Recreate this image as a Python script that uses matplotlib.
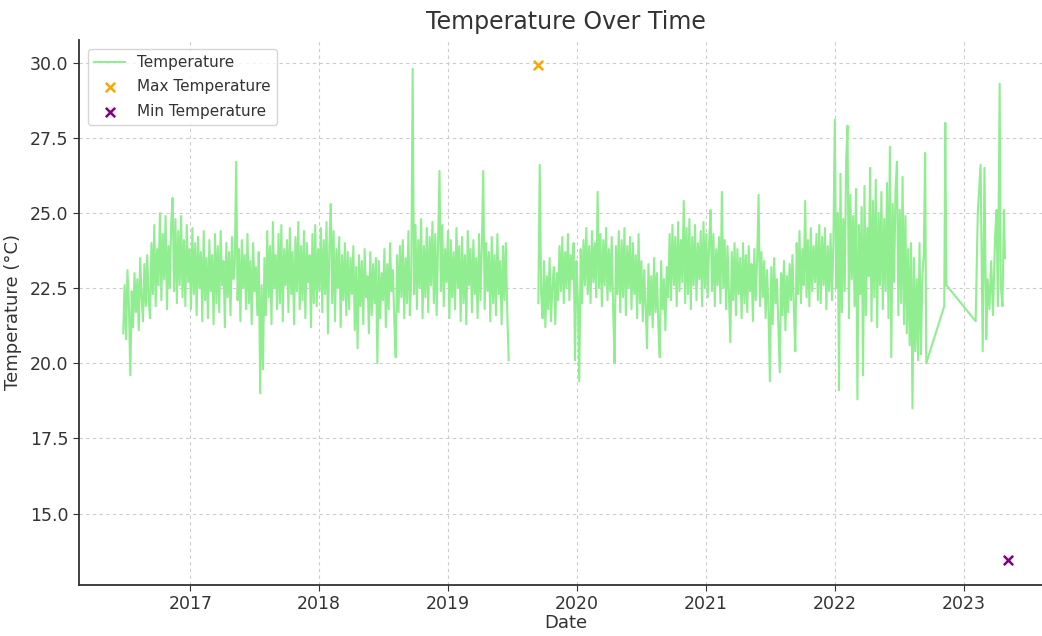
import matplotlib
matplotlib.use("Agg")
import matplotlib.pyplot as plt
import matplotlib.dates as mdates
import numpy as np
import pandas as pd

# readings every 4 days, first block (from 2016-06-25)
block1_start = "2016-06-25"
block1_temps = [
    21.0, 22.6, 20.8, 23.1, 22.0, 19.6, 22.4, 21.2, 23.0, 21.7, 22.8, 21.1, 23.5, 22.2, 21.4, 23.3, 21.9, 23.6, 22.1, 21.5,
    24.0, 22.3, 24.6, 21.9, 23.8, 22.6, 25.0, 22.1, 24.3, 22.8, 24.9, 21.8, 23.9, 22.5, 24.7, 25.5, 22.4, 24.8, 22.0, 24.4,
    22.6, 24.9, 22.2, 24.1, 21.9, 24.6, 22.7, 23.8, 21.8, 24.5, 22.3, 24.0, 21.6, 24.2, 22.5, 23.7, 21.4, 24.4, 22.1, 23.5,
    21.5, 24.1, 22.4, 23.6, 21.3, 24.3, 22.0, 23.9, 21.7, 24.4, 22.6, 23.4, 21.2, 24.0, 22.2, 23.7, 21.6, 24.2, 22.8, 23.3,
    26.7, 22.1, 23.8, 21.4, 24.1, 22.5, 23.6, 21.8, 24.3, 22.0, 23.4, 21.3, 24.0, 22.4, 23.2, 21.6, 23.7, 19.0, 22.6, 19.8,
    23.5, 21.6, 24.4, 22.2, 23.9, 21.3, 24.7, 22.5, 23.6, 21.8, 24.3, 22.0, 24.6, 21.4, 23.8, 22.6, 24.1, 21.7, 24.5, 22.3,
    23.7, 21.3, 24.2, 22.4, 24.7, 21.8, 23.9, 22.1, 24.4, 21.5, 24.0, 22.7, 23.6, 21.2, 24.3, 22.0, 24.6, 21.9, 23.8, 22.4,
    24.5, 21.7, 24.1, 22.3, 24.7, 21.0, 23.9, 25.3, 22.0, 24.4, 21.4, 23.8, 22.5, 24.2, 21.2, 23.6, 22.1, 24.0, 21.6, 23.7,
    21.8, 23.5, 22.3, 23.9, 21.1, 23.2, 20.5, 23.6, 21.9, 23.4, 21.3, 23.8, 22.2, 22.9, 21.0, 23.7, 21.6, 23.3, 22.0, 23.5,
    20.0, 23.4, 21.5, 23.0, 22.1, 23.8, 21.2, 23.3, 21.8, 24.0, 22.4, 23.1, 21.4, 20.2, 23.6, 21.7, 23.9, 22.2, 24.1, 21.5,
    23.5, 22.0, 24.4, 21.6, 22.8, 29.8, 22.3, 24.6, 21.8, 24.1, 22.5, 24.8, 21.5, 23.9, 22.2, 24.5, 21.7, 24.2, 22.6, 24.7,
    22.0, 24.3, 21.6, 24.0, 26.4, 22.4, 24.6, 21.9, 23.8, 22.7, 24.4, 21.5, 24.1, 22.2, 23.7, 21.8, 24.5, 22.5, 23.9, 21.4,
    24.2, 22.0, 23.6, 21.3, 24.4, 22.6, 23.8, 21.7, 24.1, 22.3, 23.5, 21.5, 24.3, 22.1, 23.9, 26.4, 21.8, 24.0, 22.4, 23.7,
    21.4, 24.2, 22.0, 23.6, 21.6, 24.3, 22.3, 23.4, 21.3, 23.9, 22.1, 24.0, 21.7, 20.1,
]

# readings every 4 days, second block (from 2019-09-14)
block2_start = "2019-09-14"
block2_temps = [
    22.0, 26.6, 22.3, 21.5, 23.4, 21.2, 22.9, 21.8, 23.5, 21.4, 22.6, 23.2, 21.3, 23.0, 22.1, 23.9, 22.4, 24.2, 22.0, 23.7,
    22.5, 24.3, 22.1, 23.6, 22.8, 24.0, 20.1, 23.4, 22.2, 19.4, 23.8, 22.0, 24.1, 22.6, 24.5, 22.3, 23.9, 22.0, 24.4, 22.7,
    24.0, 22.2, 25.7, 22.5, 24.3, 21.9, 24.1, 22.6, 24.5, 22.1, 23.8, 22.4, 24.2, 21.8, 20.0, 23.9, 22.3, 24.4, 21.7, 24.1,
    22.2, 24.5, 21.6, 23.9, 22.5, 24.2, 21.8, 24.0, 22.3, 23.6, 21.5, 24.3, 22.0, 23.4, 21.4, 23.1, 21.9, 20.5, 23.3, 21.6,
    22.9, 21.2, 23.5, 21.7, 23.0, 21.3, 20.2, 23.4, 21.8, 22.8, 21.1, 23.2, 22.2, 24.3, 22.1, 24.6, 22.6, 24.2, 21.9, 24.7,
    22.4, 24.1, 22.7, 25.4, 22.0, 24.5, 22.3, 24.8, 21.8, 24.2, 22.6, 24.6, 22.1, 24.0, 22.8, 24.4, 21.9, 24.7, 22.5, 24.3,
    22.2, 24.0, 25.1, 22.4, 24.3, 21.9, 23.8, 22.6, 24.2, 22.0, 25.7, 22.5, 24.1, 21.8, 23.9, 22.3, 20.7, 23.7, 22.1, 24.0,
    21.6, 23.8, 22.3, 23.5, 21.5, 24.0, 22.0, 23.6, 21.7, 23.9, 22.4, 23.3, 21.4, 23.8, 22.1, 23.5, 25.6, 21.9, 23.7, 22.2,
    23.4, 21.5, 23.1, 21.8, 19.4, 23.2, 21.3, 23.5, 22.0, 22.8, 21.2, 19.7, 23.0, 21.6, 23.4, 21.1, 22.9, 21.7, 23.3, 22.1,
    23.6, 21.8, 20.4, 24.0, 22.3, 24.4, 22.0, 23.8, 22.6, 25.4, 22.2, 24.1, 21.9, 24.5, 22.4, 23.9, 22.7, 24.3, 22.1, 24.6,
    22.0, 24.2, 22.6, 24.5, 21.8, 23.9, 22.4, 24.3, 22.1, 24.0, 28.1, 22.5, 25.0, 19.1, 26.3, 21.7, 24.8, 22.4, 26.7, 27.9,
    21.5, 25.6, 22.8, 24.9, 21.9, 25.8, 18.8, 24.6, 22.3, 25.2, 19.6, 25.9, 21.6, 24.5, 22.9, 26.5, 21.4, 25.4, 22.2, 26.1,
    21.2, 25.0, 22.6, 25.7, 21.8, 24.8, 22.4, 26.0, 21.5, 27.2, 20.2, 25.3, 22.7, 25.8, 26.7, 21.6, 25.1, 22.0, 26.2, 21.3,
    24.9, 21.0, 23.8, 20.6, 24.0, 18.5, 23.5, 20.4, 22.8, 20.1, 24.0, 20.3, 22.9, 23.6,
]

# sparse readings at the end
tail_dates = [
    "2022-09-14", "2022-09-17", "2022-11-07", "2022-11-10", "2022-11-13", "2023-02-04",
    "2023-02-10", "2023-02-18", "2023-02-24", "2023-03-01", "2023-03-06", "2023-03-10",
    "2023-03-15", "2023-03-20", "2023-03-25", "2023-03-31", "2023-04-04", "2023-04-08",
    "2023-04-13", "2023-04-16", "2023-04-21", "2023-04-25", "2023-04-28",
]
tail_temps = [
    27.0, 20.0, 21.9, 28.0, 22.6, 21.4,
    25.0, 26.6, 20.4, 26.5, 20.8, 22.8,
    21.8, 23.4, 21.6, 24.2, 25.1, 21.9,
    29.3, 22.6, 21.9, 25.1, 23.5,
]

max_date, max_temp = "2019-09-12", 29.93
min_date, min_temp = "2023-05-06", 13.45

s1 = pd.Series(block1_temps, index=pd.date_range(block1_start, periods=len(block1_temps), freq="4D"))
gap = pd.Series([np.nan], index=pd.to_datetime(["2019-08-01"]))
s2 = pd.Series(block2_temps, index=pd.date_range(block2_start, periods=len(block2_temps), freq="4D"))
s3 = pd.Series(tail_temps, index=pd.to_datetime(tail_dates))
temps = pd.concat([s1, gap, s2, s3])

W, H = 1042, 636
fig = plt.figure(figsize=(W / 100, H / 100), dpi=100)
ax = fig.add_axes([79 / W, 51 / H, 973 / W, 545 / H])

ax.plot(temps.index, temps.values, color="lightgreen", linewidth=1.5, label="Temperature")
ax.scatter(pd.to_datetime([max_date]), [max_temp], color="orange", marker="x", s=45,
           linewidths=1.8, label="Max Temperature", zorder=3)
ax.scatter(pd.to_datetime([min_date]), [min_temp], color="purple", marker="x", s=45,
           linewidths=1.8, label="Min Temperature", zorder=3)

ax.set_title("Temperature Over Time", fontsize=17, color="#333333", pad=8)
ax.set_xlabel("Date", fontsize=13, color="#333333", labelpad=1)
ax.set_ylabel("Temperature (°C)", fontsize=13, color="#333333", labelpad=6)

ax.xaxis.set_major_locator(mdates.YearLocator())
ax.xaxis.set_major_formatter(mdates.DateFormatter("%Y"))
ax.set_yticks([15.0, 17.5, 20.0, 22.5, 25.0, 27.5, 30.0])
ax.set_yticklabels(["15.0", "17.5", "20.0", "22.5", "25.0", "27.5", "30.0"])
ax.tick_params(labelsize=12.5, colors="#333333", length=4)
ax.tick_params(axis="x", pad=3)

ax.grid(True, color="#cccccc", linestyle=(0, (3, 3)), linewidth=0.8)
ax.set_axisbelow(True)
for side in ["top", "right"]:
    ax.spines[side].set_visible(False)
for side in ["left", "bottom"]:
    ax.spines[side].set_color("#333333")
    ax.spines[side].set_linewidth(1.3)

ax.legend(loc="upper left", fontsize=11, frameon=True, edgecolor="#cccccc",
          labelcolor="#333333", borderaxespad=0.6, labelspacing=0.6)

fig.savefig("out.png", dpi=100)
